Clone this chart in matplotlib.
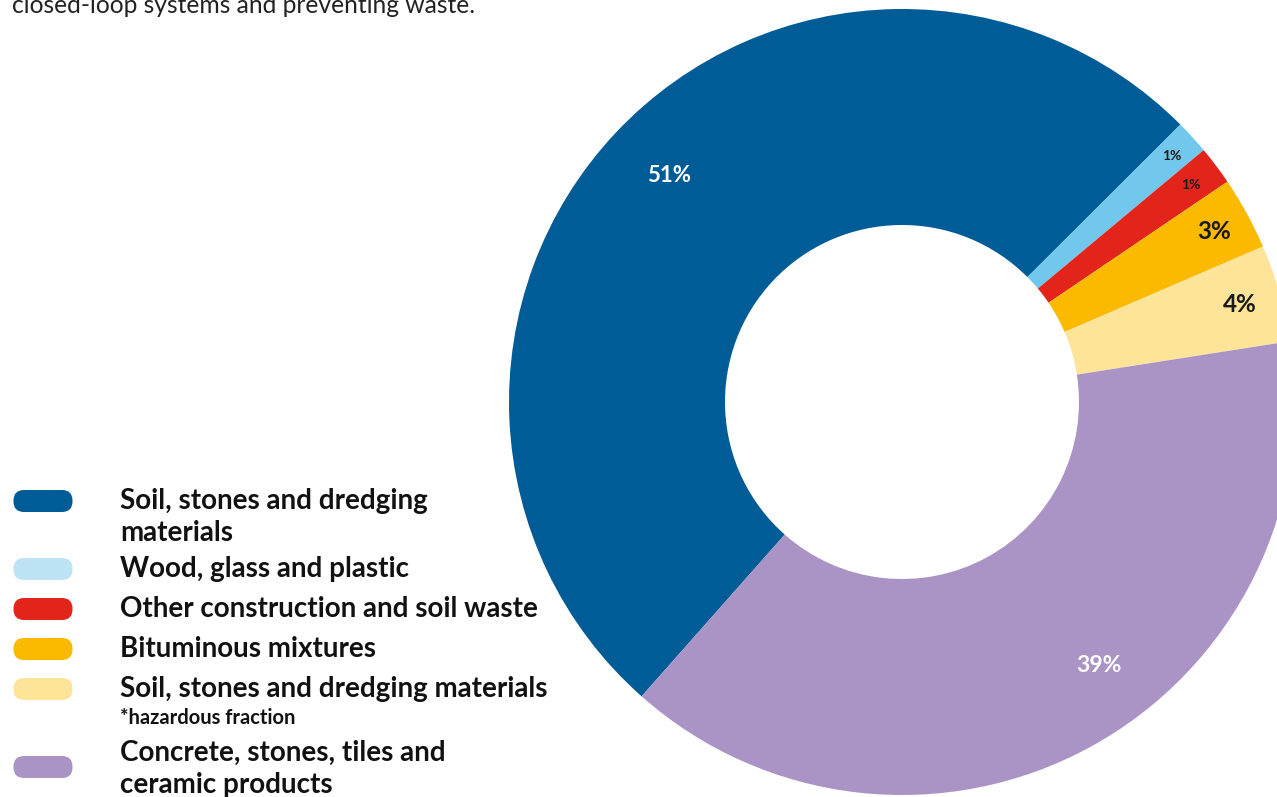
import matplotlib.pyplot as plt
from matplotlib.patches import FancyBboxPatch
import numpy as np

# slices, clockwise from the lower-left edge of the blue one
categories = ['Soil, stones and dredging\nmaterials',
              'Wood, glass and plastic',
              'Other construction and soil waste',
              'Bituminous mixtures',
              'Soil, stones and dredging materials',
              'Concrete, stones, tiles and\nceramic products']
values = [51, 1.4, 1.6, 3, 4, 39]
pct_labels = ['51%', '1%', '1%', '3%', '4%', '39%']
pie_colors = ['#005c96', '#72c8ec', '#e3241b', '#fbb900', '#fee499', '#a994c5']
legend_colors = ['#005c96', '#bee3f4', '#e3241b', '#fbb900', '#fee499', '#a994c5']

W, H = 1277, 797
fig = plt.figure(figsize=(W / 100, H / 100), dpi=100)
ax = fig.add_axes([0, 0, 1, 1])

cx, cy = 902, H - 402
R = 393
r_in = 177

wedges, _ = ax.pie(values, colors=pie_colors, startangle=228.5, counterclock=False,
                   center=(cx, cy), radius=R, frame=True,
                   wedgeprops=dict(width=R - r_in, linewidth=0))
ax.set_xlim(0, W)
ax.set_ylim(0, H)
ax.set_aspect('equal')
ax.axis('off')

# percentage labels
lab_r = [325, 365, 361, 356, 352, 329]
lab_off = [-1, 0, 0, 0, 0, 8]
lab_size = [16, 10, 10, 17.5, 17.5, 16.5]
lab_col = ['white', '#1a1a1a', '#1a1a1a', '#1a1a1a', '#1a1a1a', 'white']
for w, t, rr, off, fs, c in zip(wedges, pct_labels, lab_r, lab_off, lab_size, lab_col):
    a = np.deg2rad((w.theta1 + w.theta2) / 2 + off)
    ax.text(cx + rr * np.cos(a), cy + rr * np.sin(a), t, ha='center', va='center',
            fontsize=fs, color=c, fontweight='bold', family='Lato')

# legend
row_y = [501, 569, 609, 649, 689, 767]
text_y = [501, 569, 609, 649, 689, 753]
for col, lab, ry, ty in zip(legend_colors, categories, row_y, text_y):
    ax.add_patch(FancyBboxPatch((24, H - ry - 0.5), 38, 1, boxstyle='round,pad=10.5',
                                fc=col, ec='none'))
    for i, line in enumerate(lab.split('\n')):
        ax.text(120, H - ty - 32 * i, line, ha='left', va='center', fontsize=20,
                fontweight='bold', color='#111111', family='Lato')
ax.text(120, H - 718, '*hazardous fraction', ha='left', va='center', fontsize=14.5,
        fontweight='bold', color='#111111', family='Lato')

# cut-off intro text at the very top
ax.text(12, H - 13, 'closed-loop systems and preventing waste.', ha='left', va='baseline',
        fontsize=17.7, color='#222222', family='Lato')

fig.savefig('out.png', dpi=100)
